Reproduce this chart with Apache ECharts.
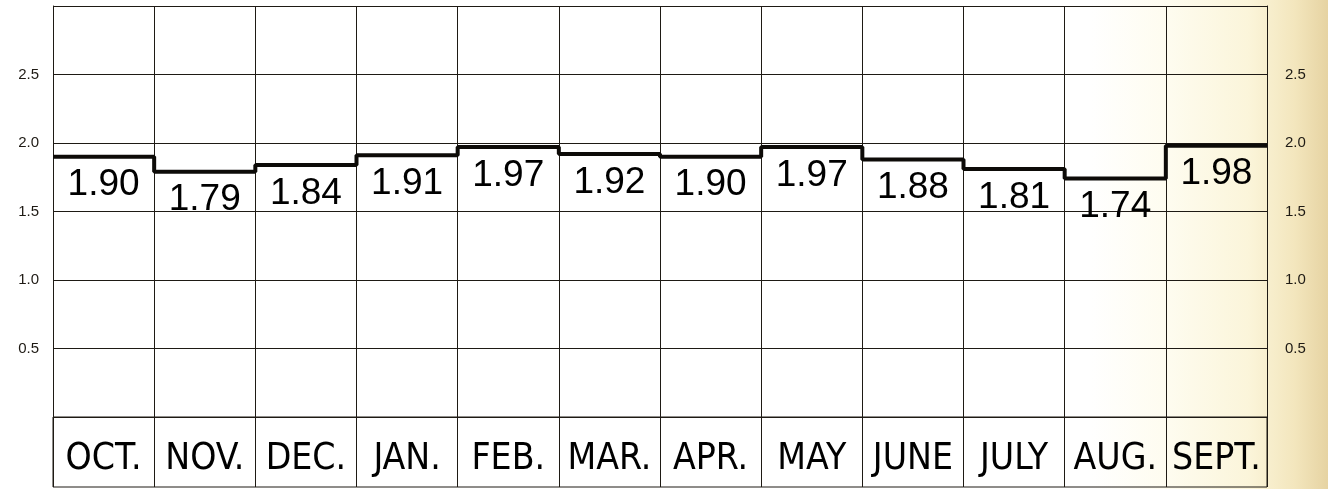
<!DOCTYPE html>
<html lang="en">
<head>
    <meta charset="UTF-8">
    <title>Monthly values</title>
    <script src="https://cdn.jsdelivr.net/npm/echarts@6.0.0/dist/echarts.min.js"></script>
    <style>
        html, body { margin: 0; padding: 0; }
        body {
            width: 1328px; height: 489px;
            background: linear-gradient(to right, #ffffff 0%, #ffffff 82%, #fefcef 88%, #fbf5da 94%, #f3e6bd 97.5%, #e6d3a2 100%);
        }
    </style>
</head>
<body>
    <div id="main" style="width: 1328px; height: 489px;"></div>

    <script type="text/javascript">
        const months = ['OCT.', 'NOV.', 'DEC.', 'JAN.', 'FEB.', 'MAR.', 'APR.', 'MAY', 'JUNE', 'JULY', 'AUG.', 'SEPT.']
        const values = [1.90, 1.79, 1.84, 1.91, 1.97, 1.92, 1.90, 1.97, 1.88, 1.81, 1.74, 1.98]
        const yTicks = [0.5, 1.0, 1.5, 2.0, 2.5]

        const ink = '#1e1a14'

        // step line: each month holds its value across the whole cell
        let stepData = values.map((v, i) => [i, v])
        stepData.push([values.length, values[values.length - 1]])

        // value labels sit in the middle of each cell
        let labelData = values.map((v, i) => [i + 0.5, v])

        function tickLabel(val) {
            return yTicks.some(t => Math.abs(t - val) < 1e-6) ? val.toFixed(1) : ''
        }

        let options = {
            animation: false,
            grid: [
                {left: 53, right: 61, top: 6, height: 411},
                {left: 53, right: 61, top: 417, height: 70, show: true, borderColor: ink, borderWidth: 1}
            ],
            xAxis: [
                {
                    type: 'value', gridIndex: 0, min: 0, max: 12, interval: 1,
                    axisLine: {show: false}, axisTick: {show: false}, axisLabel: {show: false},
                    splitLine: {show: true, lineStyle: {color: ink, width: 1}}
                },
                {
                    type: 'category', gridIndex: 1, data: months, boundaryGap: true,
                    axisLine: {show: false}, axisTick: {show: false},
                    splitLine: {show: true, interval: 0, lineStyle: {color: ink, width: 1}},
                    axisLabel: {
                        inside: true, margin: 9, interval: 0,
                        fontFamily: '"Liberation Sans Narrow", "DejaVu Sans Condensed", sans-serif',
                        fontSize: 37, color: '#000'
                    }
                }
            ],
            yAxis: [
                {
                    type: 'value', gridIndex: 0, min: 0, max: 3, interval: 0.5, position: 'left',
                    axisLine: {show: true, lineStyle: {color: ink, width: 1}}, axisTick: {show: false},
                    splitLine: {show: true, lineStyle: {color: ink, width: 1}},
                    axisLabel: {formatter: tickLabel, margin: 14, fontFamily: 'Liberation Sans', fontSize: 15, color: ink}
                },
                {
                    type: 'value', gridIndex: 0, min: 0, max: 3, interval: 0.5, position: 'right',
                    axisLine: {show: true, lineStyle: {color: ink, width: 1}}, axisTick: {show: false},
                    splitLine: {show: false},
                    axisLabel: {formatter: tickLabel, margin: 18, fontFamily: 'Liberation Sans', fontSize: 15, color: ink}
                },
                {
                    type: 'value', gridIndex: 1, show: false
                }
            ],
            series: [
                {
                    type: 'line', xAxisIndex: 0, yAxisIndex: 0, step: 'end',
                    data: stepData, symbol: 'none',
                    lineStyle: {color: '#0d0b08', width: 4}
                },
                {
                    type: 'scatter', xAxisIndex: 0, yAxisIndex: 0,
                    data: labelData, symbolSize: 0,
                    itemStyle: {color: '#000', opacity: 1},
                    label: {
                        show: true, position: 'bottom', distance: 10,
                        formatter: p => p.value[1].toFixed(2),
                        fontFamily: 'Liberation Sans', fontSize: 37, color: '#000',
                        textBorderWidth: 0, opacity: 1
                    }
                }
            ]
        }

        let myChart = echarts.init(document.getElementById('main'))
        myChart.setOption(options)
    </script>
</body>
</html>
